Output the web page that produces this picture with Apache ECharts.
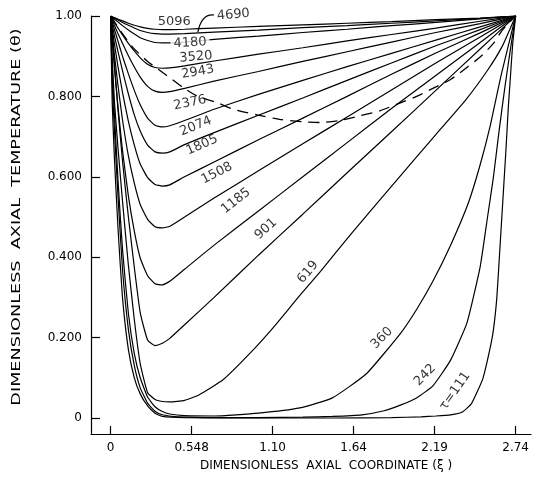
<!DOCTYPE html>
<html>
<head>
<meta charset="utf-8">
<script src="https://cdn.jsdelivr.net/npm/echarts@6/dist/echarts.min.js"></script>
<style>
html,body{margin:0;padding:0;background:#fff;}
#main{width:546px;height:484px;}
</style>
</head>
<body>
<div id="main"></div>
<script>
// axial coordinate grid shared by the high tau curves
var xiGrid = [0,0.01,0.025,0.05,0.08,0.12,0.16,0.2,0.25,0.3,0.35,0.4,0.5,0.7,1.0,1.3,1.6,1.9,2.2,2.5,2.74];

var t5096 = [1,0.998,0.996,0.992,0.988,0.982,0.977,0.973,0.969,0.967,0.966,0.966,0.967,0.970,0.974,0.978,0.982,0.986,0.991,0.995,1];
var t4690 = [1,0.998,0.995,0.990,0.984,0.977,0.970,0.964,0.959,0.956,0.955,0.955,0.956,0.960,0.965,0.971,0.976,0.982,0.988,0.994,1];
var t4180 = [1,0.997,0.992,0.985,0.976,0.965,0.955,0.946,0.939,0.934,0.933,0.933,0.935,0.942,0.950,0.959,0.967,0.976,0.984,0.993,1];
var t3520 = [1,0.994,0.984,0.970,0.953,0.932,0.913,0.896,0.880,0.872,0.870,0.871,0.876,0.888,0.905,0.921,0.938,0.954,0.970,0.987,1];
var t2943 = [1,0.990,0.977,0.956,0.932,0.901,0.873,0.848,0.825,0.813,0.810,0.812,0.820,0.838,0.862,0.887,0.911,0.935,0.959,0.981,1];
var t2376 = [1,0.986,0.967,0.937,0.900,0.856,0.815,0.779,0.746,0.728,0.724,0.727,0.740,0.768,0.805,0.840,0.874,0.907,0.940,0.973,1];
var t2074 = [1,0.980,0.952,0.911,0.864,0.806,0.754,0.714,0.679,0.662,0.659,0.662,0.680,0.710,0.753,0.796,0.840,0.883,0.926,0.966,1];
var t1805 = [1,0.970,0.932,0.873,0.810,0.738,0.679,0.632,0.598,0.581,0.577,0.580,0.600,0.637,0.692,0.746,0.800,0.855,0.908,0.958,1];
var t1508 = [1,0.960,0.905,0.826,0.742,0.652,0.584,0.531,0.494,0.476,0.473,0.477,0.500,0.547,0.615,0.682,0.749,0.816,0.883,0.948,1];
var t1185 = [1,0.946,0.873,0.773,0.666,0.552,0.465,0.398,0.354,0.334,0.331,0.340,0.370,0.430,0.515,0.600,0.685,0.770,0.852,0.934,1];
var t901  = [1,0.950,0.885,0.765,0.640,0.500,0.375,0.262,0.194,0.180,0.186,0.198,0.232,0.300,0.405,0.507,0.610,0.712,0.815,0.918,1];

var xi619 = [0,0.01,0.025,0.05,0.08,0.12,0.16,0.2,0.25,0.3,0.35,0.4,0.5,0.6,0.76,0.94,1.1,1.28,1.42,1.62,1.92,2.2,2.4,2.55,2.65,2.74];
var t619  = [1,0.90,0.79,0.67,0.54,0.38,0.245,0.135,0.063,0.046,0.041,0.04,0.044,0.058,0.095,0.16,0.225,0.305,0.365,0.455,0.585,0.705,0.79,0.865,0.925,1];

var xi360 = [0,0.01,0.025,0.05,0.08,0.12,0.16,0.2,0.25,0.3,0.35,0.4,0.5,0.7,1.0,1.28,1.5,1.73,1.96,2.07,2.18,2.3,2.42,2.5,2.57,2.64,2.74];
var t360  = [1,0.87,0.76,0.59,0.42,0.26,0.16,0.10,0.052,0.028,0.016,0.01,0.006,0.005,0.012,0.025,0.05,0.11,0.21,0.27,0.34,0.43,0.535,0.63,0.73,0.85,1];

var xi242 = [0,0.01,0.025,0.05,0.08,0.12,0.16,0.2,0.25,0.3,0.35,0.45,0.7,1.0,1.3,1.5,1.7,1.85,1.96,2.07,2.18,2.3,2.41,2.5,2.55,2.59,2.63,2.67,2.71,2.74];
var t242  = [1,0.84,0.72,0.55,0.37,0.22,0.13,0.075,0.037,0.017,0.008,0.003,0.001,0.001,0.002,0.004,0.008,0.018,0.032,0.05,0.08,0.144,0.236,0.376,0.5,0.6,0.72,0.83,0.93,1];

var xi111 = [0,0.01,0.025,0.05,0.08,0.12,0.16,0.2,0.25,0.3,0.35,0.5,1.0,1.5,1.9,2.1,2.2,2.3,2.38,2.44,2.48,2.52,2.565,2.59,2.613,2.63,2.645,2.66,2.675,2.69,2.705,2.72,2.74];
var t111  = [1,0.79,0.65,0.47,0.30,0.17,0.10,0.06,0.03,0.012,0.004,0.001,0,0,0.001,0.003,0.005,0.008,0.015,0.035,0.065,0.10,0.17,0.22,0.30,0.40,0.49,0.58,0.67,0.77,0.85,0.93,1];

// dashed locus
var dashXi    = [0,0.076,0.15,0.25,0.38,0.49,0.58,0.73,0.83,0.99,1.16,1.3,1.42,1.55,1.69,1.82,1.96,2.07,2.18,2.3,2.41,2.5,2.59,2.65,2.74];
var dashTheta = [1,0.958,0.922,0.887,0.852,0.822,0.802,0.783,0.768,0.754,0.742,0.737,0.735,0.74,0.752,0.764,0.784,0.8,0.82,0.842,0.872,0.898,0.932,0.965,1];

var curveNames = ['5096','4690','4180','3520','2943','2376','2074','1805','1508','1185','901','619','360','242','111'];
var curveXi    = [xiGrid,xiGrid,xiGrid,xiGrid,xiGrid,xiGrid,xiGrid,xiGrid,xiGrid,xiGrid,xiGrid,xi619,xi360,xi242,xi111];
var curveTheta = [t5096,t4690,t4180,t3520,t2943,t2376,t2074,t1805,t1508,t1185,t901,t619,t360,t242,t111];

var xTicks = [0,0.548,1.096,1.644,2.192,2.74];
var xTickLabels = ['0','0.548','1.10','1.64','2.19','2.74'];
var yTicks = [0,0.2,0.4,0.6,0.8,1.0];
var yTickLabels = ['0','0.200','0.400','0.600','0.800','1.00'];

// curve label placement: [xi, theta, rotate]
var labelText = ['5096','4690','4180','3520','2943','2376','2074','1805','1508','1185','901','619','360','242','τ=111'];
var labelAt = [
  [0.43,0.985,0],[0.83,1.003,5],[0.537,0.933,3],[0.577,0.898,5],[0.59,0.861,10],
  [0.537,0.784,12],[0.577,0.726,22],[0.618,0.679,24],[0.719,0.609,27],[0.848,0.54,38],
  [1.05,0.47,42],[1.335,0.363,50],[1.835,0.199,45],[2.127,0.107,45],[2.33,0.067,55]
];

function zip(a,b){var r=[];for(var i=0;i<a.length;i++){r.push([a[i],b[i]]);}return r;}

var font = 'DejaVu Sans';
var ink = '#000';

var series = [];
for (var i=0;i<curveNames.length;i++){
  series.push({
    name:curveNames[i],
    type:'line',
    data:zip(curveXi[i],curveTheta[i]),
    showSymbol:false,
    smooth:0.15,
    silent:true,
    lineStyle:{color:ink,width:1.2},
    z:2
  });
}
series.push({
  name:'locus',
  type:'line',
  data:zip(dashXi,dashTheta),
  showSymbol:false,
  smooth:0.2,
  silent:true,
  lineStyle:{color:ink,width:1.3,type:[11,7]},
  z:2
});
var labelData = [];
for (var j=0;j<labelText.length;j++){
  var item = {
    value:[labelAt[j][0],labelAt[j][1]],
    name:labelText[j],
    label:{rotate:labelAt[j][2]}
  };
  if (labelText[j]==='4180'){ item.label.backgroundColor='#fff'; item.label.padding=[0,3]; }
  labelData.push(item);
}
series.push({
  type:'scatter',
  data:labelData,
  symbolSize:0,
  clip:false,
  silent:true,
  z:5,
  label:{show:true,position:'inside',formatter:'{b}',color:ink,fontFamily:font,fontSize:13}
});

var chart = echarts.init(document.getElementById('main'));
chart.setOption({
  animation:false,
  backgroundColor:'#fff',
  grid:{left:91,top:16,width:440,height:418},
  xAxis:{
    type:'value',
    min:-0.133,
    max:2.844,
    name:'DIMENSIONLESS  AXIAL  COORDINATE (ξ )',
    nameLocation:'middle',
    nameGap:26,
    nameTextStyle:{color:ink,fontFamily:font,fontSize:12,padding:[0,0,0,30]},
    axisLine:{show:true,onZero:false,lineStyle:{color:ink,width:1.2}},
    axisTick:{show:true,inside:true,length:8,customValues:xTicks,lineStyle:{color:ink,width:1.2}},
    axisLabel:{customValues:xTicks,margin:8,color:ink,fontFamily:font,fontSize:12,
      formatter:function(v){var k=xTicks.indexOf(v);return k>=0?xTickLabels[k]:'';}},
    splitLine:{show:false}
  },
  yAxis:{
    type:'value',
    min:-0.0398,
    max:1.0,
    axisLine:{show:true,onZero:false,lineStyle:{color:ink,width:1.2}},
    axisTick:{show:true,inside:true,length:9,customValues:yTicks,lineStyle:{color:ink,width:1.2}},
    axisLabel:{customValues:yTicks,margin:9,color:ink,fontFamily:font,fontSize:12,
      formatter:function(v){var k=yTicks.indexOf(v);return k>=0?yTickLabels[k]:'';}},
    splitLine:{show:false}
  },
  series:series
});

// leader from the 4690 label down to its curve
var leader = [[0.70,1.0025],[0.615,1.006],[0.59,0.96]];
var p0 = chart.convertToPixel({gridIndex:0},leader[0]);
var p1 = chart.convertToPixel({gridIndex:0},leader[1]);
var p2 = chart.convertToPixel({gridIndex:0},leader[2]);
// y axis title, stretched along its length like the lettering of the original
var yMid = chart.convertToPixel({gridIndex:0},[0,0.5]);
chart.setOption({
  graphic:[{
    type:'bezierCurve',
    shape:{x1:p0[0],y1:p0[1],cpx1:p1[0],cpy1:p1[1],x2:p2[0],y2:p2[1]},
    style:{stroke:ink,lineWidth:1.2,fill:null},
    silent:true,
    z:6
  },{
    type:'text',
    x:17,
    y:yMid[1],
    rotation:Math.PI/2,
    scaleX:1.47,
    style:{text:'DIMENSIONLESS  AXIAL  TEMPERATURE (θ)',fill:ink,font:'12px "DejaVu Sans"',align:'center',verticalAlign:'middle'},
    silent:true
  }]
});
</script>
</body>
</html>
